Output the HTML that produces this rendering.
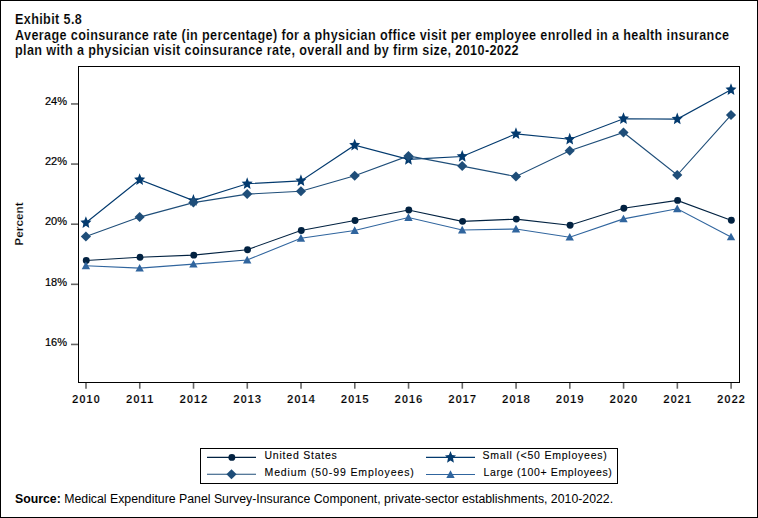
<!DOCTYPE html>
<html><head><meta charset="utf-8">
<style>
html,body{margin:0;padding:0;background:#fff;}
#wrap{position:relative;width:758px;height:518px;overflow:hidden;background:#fff;}
#frame{position:absolute;left:0;top:0;width:756px;height:516px;border:1px solid #000;}
.title{position:absolute;left:15px;top:12px;font:bold 14px/15.5px "Liberation Sans",sans-serif;color:#000;white-space:nowrap;transform:scaleX(0.9);transform-origin:0 0;letter-spacing:0.42px;-webkit-text-stroke:0.15px #fff;}
.src{position:absolute;left:15px;top:492px;font:12.3px/14px "Liberation Sans",sans-serif;color:#000;white-space:nowrap;}
svg{position:absolute;left:0;top:0;}
.yt{font:11px "Liberation Sans",sans-serif;fill:#000;stroke:#000;stroke-width:0.2px;}
.xt{font:bold 11.5px "Liberation Sans",sans-serif;fill:#000;letter-spacing:0.75px;stroke:#fff;stroke-width:0.2px;}
.pl{font:bold 11.8px "Liberation Sans",sans-serif;fill:#000;stroke:#fff;stroke-width:0.2px;}
.lg{font:10.5px "Liberation Sans",sans-serif;fill:#000;letter-spacing:0.7px;stroke:#000;stroke-width:0.1px;}
</style></head><body>
<div id="wrap">
<div id="frame"></div>
<div class="title">Exhibit 5.8<br>Average coinsurance rate (in percentage) for a physician office visit per employee enrolled in a health insurance<br>plan with a physician visit coinsurance rate, overall and by firm size, 2010-2022</div>
<svg width="758" height="518" viewBox="0 0 758 518">
<rect x="78.5" y="66.5" width="661" height="316" fill="none" stroke="#000" stroke-width="1"/>
<line x1="71" y1="103.95" x2="78" y2="103.95" stroke="#666" stroke-width="1.6"/>
<text x="67" y="105.20" text-anchor="end" class="yt">24%</text>
<line x1="71" y1="164.07" x2="78" y2="164.07" stroke="#666" stroke-width="1.6"/>
<text x="67" y="165.32" text-anchor="end" class="yt">22%</text>
<line x1="71" y1="224.20" x2="78" y2="224.20" stroke="#666" stroke-width="1.6"/>
<text x="67" y="225.45" text-anchor="end" class="yt">20%</text>
<line x1="71" y1="284.32" x2="78" y2="284.32" stroke="#666" stroke-width="1.6"/>
<text x="67" y="285.57" text-anchor="end" class="yt">18%</text>
<line x1="71" y1="344.45" x2="78" y2="344.45" stroke="#666" stroke-width="1.6"/>
<text x="67" y="345.70" text-anchor="end" class="yt">16%</text>
<line x1="86.00" y1="383" x2="86.00" y2="388.7" stroke="#666" stroke-width="1.6"/>
<text x="86.30" y="403" text-anchor="middle" class="xt">2010</text>
<line x1="139.76" y1="383" x2="139.76" y2="388.7" stroke="#666" stroke-width="1.6"/>
<text x="140.06" y="403" text-anchor="middle" class="xt">2011</text>
<line x1="193.52" y1="383" x2="193.52" y2="388.7" stroke="#666" stroke-width="1.6"/>
<text x="193.82" y="403" text-anchor="middle" class="xt">2012</text>
<line x1="247.28" y1="383" x2="247.28" y2="388.7" stroke="#666" stroke-width="1.6"/>
<text x="247.58" y="403" text-anchor="middle" class="xt">2013</text>
<line x1="301.03" y1="383" x2="301.03" y2="388.7" stroke="#666" stroke-width="1.6"/>
<text x="301.33" y="403" text-anchor="middle" class="xt">2014</text>
<line x1="354.79" y1="383" x2="354.79" y2="388.7" stroke="#666" stroke-width="1.6"/>
<text x="355.09" y="403" text-anchor="middle" class="xt">2015</text>
<line x1="408.55" y1="383" x2="408.55" y2="388.7" stroke="#666" stroke-width="1.6"/>
<text x="408.85" y="403" text-anchor="middle" class="xt">2016</text>
<line x1="462.31" y1="383" x2="462.31" y2="388.7" stroke="#666" stroke-width="1.6"/>
<text x="462.61" y="403" text-anchor="middle" class="xt">2017</text>
<line x1="516.07" y1="383" x2="516.07" y2="388.7" stroke="#666" stroke-width="1.6"/>
<text x="516.37" y="403" text-anchor="middle" class="xt">2018</text>
<line x1="569.83" y1="383" x2="569.83" y2="388.7" stroke="#666" stroke-width="1.6"/>
<text x="570.12" y="403" text-anchor="middle" class="xt">2019</text>
<line x1="623.58" y1="383" x2="623.58" y2="388.7" stroke="#666" stroke-width="1.6"/>
<text x="623.88" y="403" text-anchor="middle" class="xt">2020</text>
<line x1="677.34" y1="383" x2="677.34" y2="388.7" stroke="#666" stroke-width="1.6"/>
<text x="677.64" y="403" text-anchor="middle" class="xt">2021</text>
<line x1="731.10" y1="383" x2="731.10" y2="388.7" stroke="#666" stroke-width="1.6"/>
<text x="731.40" y="403" text-anchor="middle" class="xt">2022</text>
<polyline points="85.90,260.50 139.66,257.25 193.42,255.17 247.18,249.70 300.93,230.50 354.69,220.50 408.45,210.00 462.21,221.35 515.97,219.10 569.73,225.30 623.48,208.20 677.24,200.40 731.00,220.30" fill="none" stroke="#022241" stroke-width="1.1"/>
<g fill="#022241"><circle cx="86.25" cy="260.50" r="3.45"/><circle cx="140.01" cy="257.25" r="3.45"/><circle cx="193.77" cy="255.17" r="3.45"/><circle cx="247.53" cy="249.70" r="3.45"/><circle cx="301.28" cy="230.50" r="3.45"/><circle cx="355.04" cy="220.50" r="3.45"/><circle cx="408.80" cy="210.00" r="3.45"/><circle cx="462.56" cy="221.35" r="3.45"/><circle cx="516.32" cy="219.10" r="3.45"/><circle cx="570.08" cy="225.30" r="3.45"/><circle cx="623.83" cy="208.20" r="3.45"/><circle cx="677.59" cy="200.40" r="3.45"/><circle cx="731.35" cy="220.30" r="3.45"/></g>

<polyline points="85.90,222.75 139.66,179.75 193.42,200.60 247.18,183.80 300.93,180.85 354.69,145.20 408.45,159.40 462.21,156.45 515.97,133.85 569.73,139.30 623.48,118.70 677.24,119.10 731.00,89.65" fill="none" stroke="#033a6e" stroke-width="1.1"/>
<g fill="#033a6e"><polygon points="85.90,216.25 87.46,220.33 91.40,220.74 88.43,223.67 89.30,228.01 85.90,225.74 82.50,228.01 83.37,223.67 80.40,220.74 84.34,220.33"/><polygon points="139.66,173.25 141.22,177.33 145.16,177.74 142.19,180.67 143.06,185.01 139.66,182.74 136.26,185.01 137.13,180.67 134.16,177.74 138.09,177.33"/><polygon points="193.42,194.10 194.98,198.18 198.92,198.59 195.95,201.52 196.82,205.86 193.42,203.59 190.02,205.86 190.89,201.52 187.91,198.59 191.85,198.18"/><polygon points="247.18,177.30 248.74,181.38 252.68,181.79 249.71,184.72 250.58,189.06 247.18,186.79 243.77,189.06 244.64,184.72 241.67,181.79 245.61,181.38"/><polygon points="300.93,174.35 302.50,178.43 306.44,178.84 303.46,181.77 304.33,186.11 300.93,183.84 297.53,186.11 298.40,181.77 295.43,178.84 299.37,178.43"/><polygon points="354.69,138.70 356.26,142.78 360.19,143.19 357.22,146.12 358.09,150.46 354.69,148.19 351.29,150.46 352.16,146.12 349.19,143.19 353.13,142.78"/><polygon points="408.45,152.90 410.01,156.98 413.95,157.39 410.98,160.32 411.85,164.66 408.45,162.39 405.05,164.66 405.92,160.32 402.95,157.39 406.89,156.98"/><polygon points="462.21,149.95 463.77,154.03 467.71,154.44 464.74,157.37 465.61,161.71 462.21,159.44 458.81,161.71 459.68,157.37 456.71,154.44 460.64,154.03"/><polygon points="515.97,127.35 517.53,131.43 521.47,131.84 518.50,134.77 519.37,139.11 515.97,136.84 512.57,139.11 513.44,134.77 510.46,131.84 514.40,131.43"/><polygon points="569.73,132.80 571.29,136.88 575.23,137.29 572.26,140.22 573.13,144.56 569.73,142.29 566.32,144.56 567.19,140.22 564.22,137.29 568.16,136.88"/><polygon points="623.48,112.20 625.05,116.28 628.99,116.69 626.01,119.62 626.88,123.96 623.48,121.69 620.08,123.96 620.95,119.62 617.98,116.69 621.92,116.28"/><polygon points="677.24,112.60 678.81,116.68 682.74,117.09 679.77,120.02 680.64,124.36 677.24,122.09 673.84,124.36 674.71,120.02 671.74,117.09 675.68,116.68"/><polygon points="731.00,83.15 732.56,87.23 736.50,87.64 733.53,90.57 734.40,94.91 731.00,92.64 727.60,94.91 728.47,90.57 725.50,87.64 729.44,87.23"/></g>

<polyline points="85.90,236.40 139.66,217.10 193.42,202.60 247.18,194.10 300.93,191.30 354.69,175.70 408.45,155.90 462.21,166.10 515.97,176.50 569.73,150.70 623.48,132.45 677.24,175.00 731.00,115.10" fill="none" stroke="#1f4e79" stroke-width="1.1"/>
<g fill="#1f4e79"><polygon points="85.90,231.40 91.00,236.40 85.90,241.40 80.80,236.40"/><polygon points="139.66,212.10 144.76,217.10 139.66,222.10 134.56,217.10"/><polygon points="193.42,197.60 198.52,202.60 193.42,207.60 188.32,202.60"/><polygon points="247.18,189.10 252.28,194.10 247.18,199.10 242.08,194.10"/><polygon points="300.93,186.30 306.03,191.30 300.93,196.30 295.83,191.30"/><polygon points="354.69,170.70 359.79,175.70 354.69,180.70 349.59,175.70"/><polygon points="408.45,150.90 413.55,155.90 408.45,160.90 403.35,155.90"/><polygon points="462.21,161.10 467.31,166.10 462.21,171.10 457.11,166.10"/><polygon points="515.97,171.50 521.07,176.50 515.97,181.50 510.87,176.50"/><polygon points="569.73,145.70 574.83,150.70 569.73,155.70 564.62,150.70"/><polygon points="623.48,127.45 628.58,132.45 623.48,137.45 618.38,132.45"/><polygon points="677.24,170.00 682.34,175.00 677.24,180.00 672.14,175.00"/><polygon points="731.00,110.10 736.10,115.10 731.00,120.10 725.90,115.10"/></g>

<polyline points="85.90,265.80 139.66,268.15 193.42,264.10 247.18,260.00 300.93,238.30 354.69,230.50 408.45,217.50 462.21,230.05 515.97,229.00 569.73,237.20 623.48,218.90 677.24,208.75 731.00,236.95" fill="none" stroke="#30659e" stroke-width="1.1"/>
<g fill="#30659e"><polygon points="85.90,261.62 90.10,269.22 81.70,269.22"/><polygon points="139.66,263.97 143.86,271.57 135.46,271.57"/><polygon points="193.42,259.92 197.62,267.52 189.22,267.52"/><polygon points="247.18,255.82 251.38,263.42 242.98,263.42"/><polygon points="300.93,234.12 305.13,241.72 296.73,241.72"/><polygon points="354.69,226.32 358.89,233.92 350.49,233.92"/><polygon points="408.45,213.32 412.65,220.92 404.25,220.92"/><polygon points="462.21,225.87 466.41,233.47 458.01,233.47"/><polygon points="515.97,224.82 520.17,232.42 511.77,232.42"/><polygon points="569.73,233.02 573.93,240.62 565.52,240.62"/><polygon points="623.48,214.72 627.68,222.32 619.28,222.32"/><polygon points="677.24,204.57 681.44,212.17 673.04,212.17"/><polygon points="731.00,232.77 735.20,240.37 726.80,240.37"/></g>

<text transform="translate(23,224) rotate(-90)" text-anchor="middle" class="pl">Percent</text>
<rect x="200.5" y="448.5" width="417" height="35" fill="none" stroke="#000" stroke-width="1"/>
<line x1="207" y1="457.4" x2="256" y2="457.4" stroke="#022241" stroke-width="1.1"/><g fill="#022241"><circle cx="231.85" cy="457.40" r="3.45"/></g>
<line x1="207" y1="474.2" x2="256" y2="474.2" stroke="#1f4e79" stroke-width="1.1"/><g fill="#1f4e79"><polygon points="231.50,469.20 236.60,474.20 231.50,479.20 226.40,474.20"/></g>
<line x1="426" y1="457.4" x2="475" y2="457.4" stroke="#033a6e" stroke-width="1.1"/><g fill="#033a6e"><polygon points="450.50,450.90 452.06,454.98 456.00,455.39 453.03,458.32 453.90,462.66 450.50,460.39 447.10,462.66 447.97,458.32 445.00,455.39 448.94,454.98"/></g>
<line x1="426" y1="474.5" x2="475" y2="474.5" stroke="#30659e" stroke-width="1.1"/><g fill="#30659e"><polygon points="450.50,470.32 454.70,477.92 446.30,477.92"/></g>
<text x="264.5" y="459" class="lg" textLength="73" lengthAdjust="spacing">United States</text>
<text x="264.5" y="476" class="lg" textLength="150" lengthAdjust="spacing">Medium (50-99 Employees)</text>
<text x="482.5" y="459" class="lg" textLength="125" lengthAdjust="spacing">Small (&lt;50 Employees)</text>
<text x="483.5" y="476" class="lg" textLength="129" lengthAdjust="spacing">Large (100+ Employees)</text>
</svg>
<div class="src"><b>Source:</b> Medical Expenditure Panel Survey-Insurance Component, private-sector establishments, 2010-2022.</div>
</div>
</body></html>
